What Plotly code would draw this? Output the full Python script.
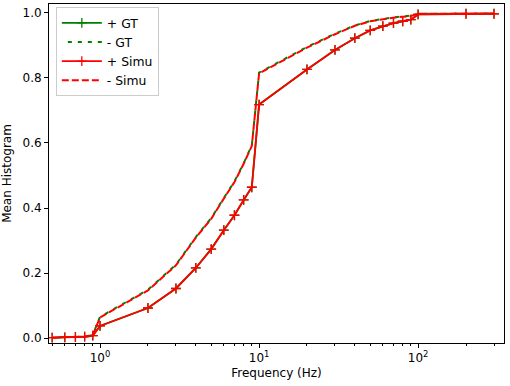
import plotly.graph_objects as go

freq = [0.5, 0.6, 0.7, 0.8, 0.9, 1, 2, 3, 4, 5, 6, 7, 8, 9, 10,
        20, 30, 40, 50, 60, 70, 80, 90, 100, 200, 300]

pos_gt = [0.002, 0.003, 0.004, 0.005, 0.008, 0.038, 0.093, 0.153, 0.216, 0.274,
          0.332, 0.378, 0.425, 0.464, 0.718, 0.826, 0.886, 0.922, 0.946, 0.959,
          0.968, 0.974, 0.979, 0.995, 0.997, 0.997]
neg_gt = [0.002, 0.003, 0.004, 0.005, 0.010, 0.066, 0.149, 0.226, 0.311, 0.369,
          0.431, 0.482, 0.538, 0.593, 0.816, 0.895, 0.936, 0.961, 0.975, 0.982,
          0.986, 0.989, 0.991, 0.997, 0.998, 0.998]
pos_simu = [0.002, 0.003, 0.004, 0.005, 0.008, 0.038, 0.093, 0.153, 0.216, 0.274,
            0.332, 0.378, 0.425, 0.464, 0.718, 0.826, 0.886, 0.922, 0.946, 0.959,
            0.968, 0.974, 0.979, 0.995, 0.997, 0.997]
neg_simu = [0.002, 0.003, 0.004, 0.005, 0.010, 0.064, 0.147, 0.224, 0.309, 0.367,
            0.429, 0.480, 0.536, 0.591, 0.814, 0.893, 0.934, 0.960, 0.974, 0.981,
            0.985, 0.988, 0.990, 0.997, 0.998, 0.998]

x_major = [1, 10, 100]
x_major_text = ["10<sup>0</sup>", "10<sup>1</sup>", "10<sup>2</sup>"]
x_minor = [0.5, 0.6, 0.7, 0.8, 0.9, 2, 3, 4, 5, 6, 7, 8, 9,
           20, 30, 40, 50, 60, 70, 80, 90, 200, 300]
y_ticks = [0.0, 0.2, 0.4, 0.6, 0.8, 1.0]

GREEN = "#008000"
RED = "#ff0000"
FONT = "DejaVu Sans"

fig = go.Figure()
fig.add_trace(go.Scatter(
    x=freq, y=pos_gt, name="+ GT", mode="lines+markers",
    line=dict(color=GREEN, width=1.8),
    marker=dict(symbol="cross-thin", size=7, line=dict(color=GREEN, width=1.3))))
fig.add_trace(go.Scatter(
    x=freq, y=neg_gt, name="- GT", mode="lines",
    line=dict(color=GREEN, width=2, dash="0px,6px,4px,0px")))
fig.add_trace(go.Scatter(
    x=freq, y=pos_simu, name="+ Simu", mode="lines+markers",
    line=dict(color=RED, width=1.8),
    marker=dict(symbol="cross-thin", size=7, line=dict(color=RED, width=1.3))))
fig.add_trace(go.Scatter(
    x=freq, y=neg_simu, name="- Simu", mode="lines",
    line=dict(color=RED, width=2, dash="7px,3px")))

fig.update_layout(
    width=510, height=386,
    margin=dict(l=49, r=6, t=4, b=43),
    paper_bgcolor="white", plot_bgcolor="white",
    font=dict(family=FONT, size=12, color="black"),
    showlegend=True,
    legend=dict(x=0.015, y=0.99, xanchor="left", yanchor="top",
                bgcolor="rgba(255,255,255,0.8)", bordercolor="#cccccc",
                borderwidth=1, font=dict(family=FONT, size=12.4, color="black"),
                tracegroupgap=0, itemwidth=40,
                entrywidth=52, entrywidthmode="pixels"),
)
fig.update_xaxes(
    type="log", range=[-0.321, 2.54], automargin=False,
    tickmode="array", tickvals=x_major, ticktext=x_major_text,
    ticks="outside", ticklen=4, tickwidth=1, tickcolor="black",
    minor=dict(tickvals=x_minor, ticks="outside", ticklen=2, tickwidth=0.8,
               tickcolor="black", showgrid=False),
    showgrid=False, zeroline=False,
    showline=True, linecolor="black", linewidth=1, mirror=True,
    title=dict(text="Frequency (Hz)", font=dict(family=FONT, size=12), standoff=4),
    tickfont=dict(family=FONT, size=12),
)
fig.update_yaxes(
    range=[-0.0145, 1.027], automargin=False,
    tickmode="array", tickvals=y_ticks, tickformat=".1f",
    ticks="outside", ticklen=4, tickwidth=1, tickcolor="black",
    showgrid=False, zeroline=False,
    showline=True, linecolor="black", linewidth=1, mirror=True,
    title=dict(text="Mean Histogram", font=dict(family=FONT, size=12), standoff=8),
    tickfont=dict(family=FONT, size=12),
)

fig.write_html("out.html",
               config={"displayModeBar": False},
               post_script="document.body.style.margin='0';document.body.style.overflow='hidden';")
